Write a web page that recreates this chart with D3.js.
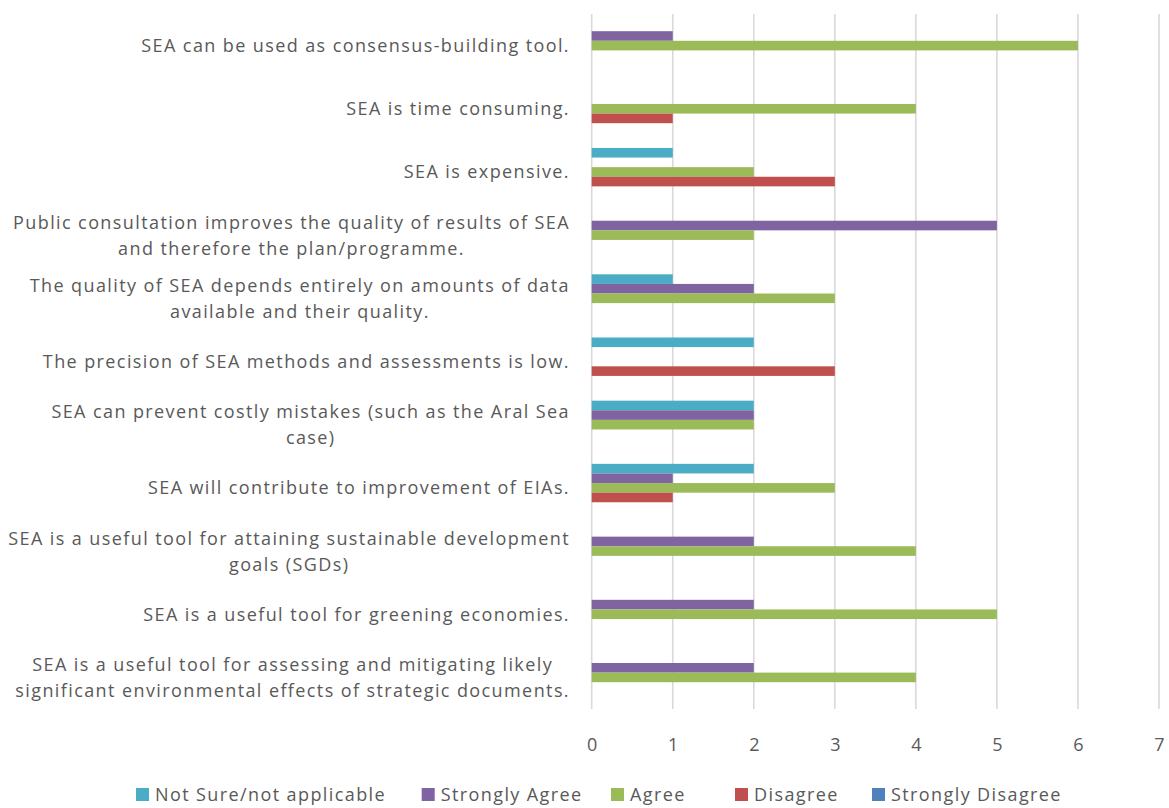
<!DOCTYPE html>
<html>
<head>
<meta charset="utf-8">
<script src="https://cdn.jsdelivr.net/npm/d3@7/dist/d3.min.js"></script>
<style>
  html, body { margin: 0; padding: 0; background: #fff; }
  svg { display: block; }
  text { font-family: "Open Sans", "Noto Sans", sans-serif; fill: #595959; }
</style>
</head>
<body>
<svg id="chart" width="1169" height="808"></svg>
<script>
// Survey statements (top to bottom); "\n" marks a line break
const statements = [
  "SEA can be used as consensus-building tool.",
  "SEA is time consuming.",
  "SEA is expensive.",
  "Public consultation improves the quality of results of SEA\nand therefore the plan/programme.",
  "The quality of SEA depends entirely on amounts of data\navailable and their quality.",
  "The precision of SEA methods and assessments is low.",
  "SEA can prevent costly mistakes (such as the Aral Sea\ncase)",
  "SEA will contribute to improvement of EIAs.",
  "SEA is a useful tool for attaining sustainable development\ngoals (SGDs)",
  "SEA is a useful tool for greening economies.",
  "SEA is a useful tool for assessing and mitigating likely\nsignificant environmental effects of strategic documents."
];

const seriesNames = ["Not Sure/not applicable", "Strongly Agree", "Agree", "Disagree", "Strongly Disagree"];
const seriesColors = ["#4bacc6", "#8064a2", "#9bbb59", "#c0504d", "#4f81bd"];

// Response counts per statement, one array per answer
const notSure        = [0, 0, 1, 0, 1, 2, 2, 2, 0, 0, 0];
const stronglyAgree  = [1, 0, 0, 5, 2, 0, 2, 1, 2, 2, 2];
const agree          = [6, 4, 2, 2, 3, 0, 2, 3, 4, 5, 4];
const disagree       = [0, 1, 3, 0, 0, 3, 0, 1, 0, 0, 0];
const stronglyDisagree = [0, 0, 0, 0, 0, 0, 0, 0, 0, 0, 0];

const xTicks = [0, 1, 2, 3, 4, 5, 6, 7];

const seriesValues = [notSure, stronglyAgree, agree, disagree, stronglyDisagree];

const svg = d3.select("#chart");
const plot = { left: 591.7, right: 1159, top: 14, bottom: 709 };
const fontSize = 18, spacing = 1.4;

const x = d3.scaleLinear().domain([0, 7]).range([plot.left, plot.right]);
const y0 = d3.scaleBand()
  .domain(d3.range(statements.length))
  .range([plot.top, plot.bottom])
  .paddingInner(0.24)
  .paddingOuter(0.12);
const y1 = d3.scaleBand()
  .domain(d3.range(seriesNames.length))
  .range([0, y0.bandwidth()]);

// Vertical gridlines
svg.append("g")
  .selectAll("line")
  .data(xTicks)
  .join("line")
  .attr("x1", d => x(d)).attr("x2", d => x(d))
  .attr("y1", plot.top).attr("y2", plot.bottom)
  .attr("stroke", "#d9d9d9")
  .attr("stroke-width", 1.6);

// Bars
const groups = svg.append("g")
  .selectAll("g")
  .data(statements.map((s, i) => i))
  .join("g")
  .attr("transform", i => `translate(0,${y0(i)})`);

groups.selectAll("rect")
  .data(i => seriesValues.map((vals, k) => ({ k, v: vals[i] })).filter(d => d.v > 0))
  .join("rect")
  .attr("x", x(0))
  .attr("y", d => y1(d.k))
  .attr("width", d => x(d.v) - x(0))
  .attr("height", y1.bandwidth())
  .attr("fill", d => seriesColors[d.k]);

// Category labels: block right-aligned to the axis, lines centred within the block
const labelRight = 570;
const labelG = svg.append("g").attr("font-size", fontSize).attr("letter-spacing", spacing);
statements.forEach((s, i) => {
  const lines = s.split("\n");
  const cy = y0(i) + y0.bandwidth() / 2;
  const lh = 26;
  const t = labelG.append("text").attr("text-anchor", "middle");
  const spans = lines.map((ln, j) => t.append("tspan")
    .attr("y", cy + (j - (lines.length - 1) / 2) * lh)
    .attr("dy", "0.36em")
    .text(ln));
  const widest = d3.max(spans, sp => sp.node().getComputedTextLength());
  spans.forEach(sp => sp.attr("x", labelRight - widest / 2));
});

// X axis tick labels
const xAxis = d3.axisBottom(x).tickValues(xTicks).tickFormat(d3.format("d")).tickSize(0).tickPadding(0);
const axG = svg.append("g")
  .attr("transform", `translate(0,${plot.bottom})`)
  .call(xAxis);
axG.select(".domain").remove();
axG.selectAll("text")
  .attr("font-size", fontSize)
  .attr("font-family", "'Open Sans', sans-serif")
  .attr("fill", "#595959")
  .attr("y", 36)
  .attr("dy", "0.36em");

// Legend
const legendX = [136, 421.7, 611, 735, 872];
const legend = svg.append("g").attr("font-size", fontSize).attr("letter-spacing", spacing);
seriesNames.forEach((name, k) => {
  const g = legend.append("g").attr("transform", `translate(${legendX[k]},788)`);
  g.append("rect").attr("width", 13).attr("height", 13).attr("fill", seriesColors[k]);
  g.append("text").attr("x", 19).attr("y", 6.5).attr("dy", "0.36em").text(name);
});
</script>
</body>
</html>
